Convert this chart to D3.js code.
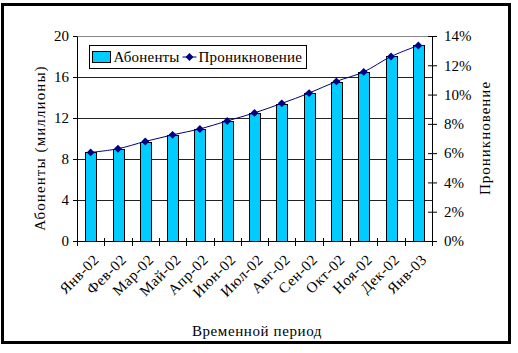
<!DOCTYPE html>
<html>
<head>
<meta charset="utf-8">
<script src="https://cdn.jsdelivr.net/npm/d3@7"></script>
<style>
  body { margin: 0; background: #fff; }
  svg { display: block; }
</style>
</head>
<body>
<div id="chart"></div>
<script>
// Data
const months = ['Янв-02', 'Фев-02', 'Мар-02', 'Май-02', 'Апр-02', 'Июн-02', 'Июл-02',
  'Авг-02', 'Сен-02', 'Окт-02', 'Ноя-02', 'Дек-02', 'Янв-03']
const subscribers = [8.65, 9.0, 9.7, 10.35, 10.9, 11.7, 12.5, 13.4, 14.4, 15.55, 16.5, 18.0, 19.1]
const penetration = [6.05, 6.3, 6.8, 7.25, 7.65, 8.2, 8.75, 9.4, 10.1, 10.9, 11.55, 12.6, 13.35]
const leftTicks = [0, 4, 8, 12, 16, 20]
const rightTicks = [0, 2, 4, 6, 8, 10, 12, 14]

const width = 518
const height = 353
const margin = {left: 77, right: 86, top: 36, bottom: 112}
const plotW = width - margin.left - margin.right
const plotH = height - margin.top - margin.bottom
const font = '"Liberation Serif", "Times New Roman", serif'

const svg = d3.select('#chart')
  .append('svg')
  .attr('width', width)
  .attr('height', height)
  .style('font-family', font)

// Outer frame
svg.append('rect')
  .attr('x', 2.5).attr('y', 4.5)
  .attr('width', 507).attr('height', 338)
  .style('fill', 'white')
  .style('stroke', 'black')
  .style('stroke-width', 3)

const x = d3.scaleBand().domain(months).range([0, plotW]).paddingInner(0.6).paddingOuter(0.3)
const y = d3.scaleLinear().domain([0, 20]).range([plotH, 0])
const y2 = d3.scaleLinear().domain([0, 14]).range([plotH, 0])

const g = svg.append('g').attr('transform', `translate(${margin.left},${margin.top})`)

// Gridlines
g.selectAll('.grid')
  .data(leftTicks.filter(d => d > 0 && d < 20))
  .join('line')
  .attr('class', 'grid')
  .attr('x1', 0).attr('x2', plotW)
  .attr('y1', d => Math.round(y(d)) + 0.5).attr('y2', d => Math.round(y(d)) + 0.5)
  .style('stroke', '#222')
  .style('stroke-width', 1)

// Plot top border
g.append('line')
  .attr('x1', 0).attr('x2', plotW)
  .attr('y1', 0.5).attr('y2', 0.5)
  .style('stroke', '#888')

// Bars
g.selectAll('.bar')
  .data(subscribers)
  .join('rect')
  .attr('class', 'bar')
  .attr('x', (d, i) => Math.round(x(months[i])) + 0.5)
  .attr('y', d => Math.round(y(d)) + 0.5)
  .attr('width', Math.round(x.bandwidth()))
  .attr('height', d => plotH - Math.round(y(d)))
  .style('fill', '#00ccff')
  .style('stroke', '#000')
  .style('stroke-width', 1)

// Penetration line
const line = d3.line()
  .curve(d3.curveCatmullRom)
  .x((d, i) => x(months[i]) + x.bandwidth() / 2)
  .y(d => y2(d))

g.append('path')
  .datum(penetration)
  .attr('d', line)
  .style('fill', 'none')
  .style('stroke', '#000080')
  .style('stroke-width', 1)

const diamond = d3.symbol().type(d3.symbolDiamond2).size(40)
g.selectAll('.marker')
  .data(penetration)
  .join('path')
  .attr('class', 'marker')
  .attr('transform', (d, i) => `translate(${x(months[i]) + x.bandwidth() / 2},${y2(d)})`)
  .attr('d', diamond)
  .style('fill', '#000080')

// Left axis
const lAxis = g.append('g')
  .call(d3.axisLeft(y).tickValues(leftTicks).tickSize(4).tickPadding(4).tickSizeOuter(0))
lAxis.select('.domain').style('stroke', '#000')
lAxis.selectAll('text').style('font-family', font).style('font-size', '15px').style('fill', '#000')

// Right axis (ticks cross the line)
const rAxis = g.append('g')
  .attr('transform', `translate(${plotW},0)`)
  .call(d3.axisRight(y2).tickValues(rightTicks).tickFormat(d => d + '%').tickSize(5).tickPadding(7).tickSizeOuter(0))
rAxis.selectAll('.tick line').attr('x1', -4)
rAxis.select('.domain').style('stroke', '#000')
rAxis.selectAll('text').style('font-family', font).style('font-size', '15px').style('fill', '#000')

// Bottom axis, ticks between categories
const bAxis = g.append('g').attr('transform', `translate(0,${plotH})`)
bAxis.append('line')
  .attr('x1', 0).attr('x2', plotW)
  .attr('y1', 0.5).attr('y2', 0.5)
  .style('stroke', '#000')
bAxis.selectAll('.btick')
  .data(d3.range(months.length + 1))
  .join('line')
  .attr('class', 'btick')
  .attr('x1', i => Math.round(i * x.step()) + 0.5)
  .attr('x2', i => Math.round(i * x.step()) + 0.5)
  .attr('y1', -3).attr('y2', 5)
  .style('stroke', '#000')
bAxis.selectAll('.blabel')
  .data(months)
  .join('text')
  .attr('class', 'blabel')
  .attr('transform', d => `translate(${x(d) + x.bandwidth() / 2 + 2},${12}) rotate(-45)`)
  .attr('text-anchor', 'end')
  .attr('dy', '0.7em')
  .style('font-size', '15px')
  .style('letter-spacing', '0.6px')
  .text(d => d)

// Axis titles
svg.append('text')
  .attr('transform', `translate(45,148) rotate(-90)`)
  .attr('text-anchor', 'middle')
  .style('font-size', '15px')
  .style('letter-spacing', '1.1px')
  .text('Абоненты (миллионы)')

svg.append('text')
  .attr('transform', `translate(490,138) rotate(-90)`)
  .attr('text-anchor', 'middle')
  .style('font-size', '15px')
  .style('letter-spacing', '1px')
  .text('Проникновение')

svg.append('text')
  .attr('x', 257)
  .attr('y', 336)
  .attr('text-anchor', 'middle')
  .style('font-size', '15px')
  .style('letter-spacing', '0.6px')
  .text('Временной период')

// Legend
const leg = svg.append('g').attr('transform', 'translate(89.5,45.5)')
leg.append('rect')
  .attr('width', 217).attr('height', 23)
  .style('fill', 'white')
  .style('stroke', '#000')
leg.append('rect')
  .attr('x', 3).attr('y', 6).attr('width', 18).attr('height', 11)
  .style('fill', '#00ccff').style('stroke', '#000')
leg.append('text')
  .attr('x', 24).attr('y', 16.5)
  .style('font-size', '15px')
  .style('letter-spacing', '0.2px')
  .text('Абоненты')
leg.append('line')
  .attr('x1', 93).attr('x2', 107).attr('y1', 11.5).attr('y2', 11.5)
  .style('stroke', '#000080')
leg.append('path')
  .attr('transform', 'translate(100,11.5)')
  .attr('d', diamond)
  .style('fill', '#000080')
leg.append('text')
  .attr('x', 109).attr('y', 16.5)
  .style('font-size', '15px')
  .style('letter-spacing', '0.2px')
  .text('Проникновение')
</script>
</body>
</html>
